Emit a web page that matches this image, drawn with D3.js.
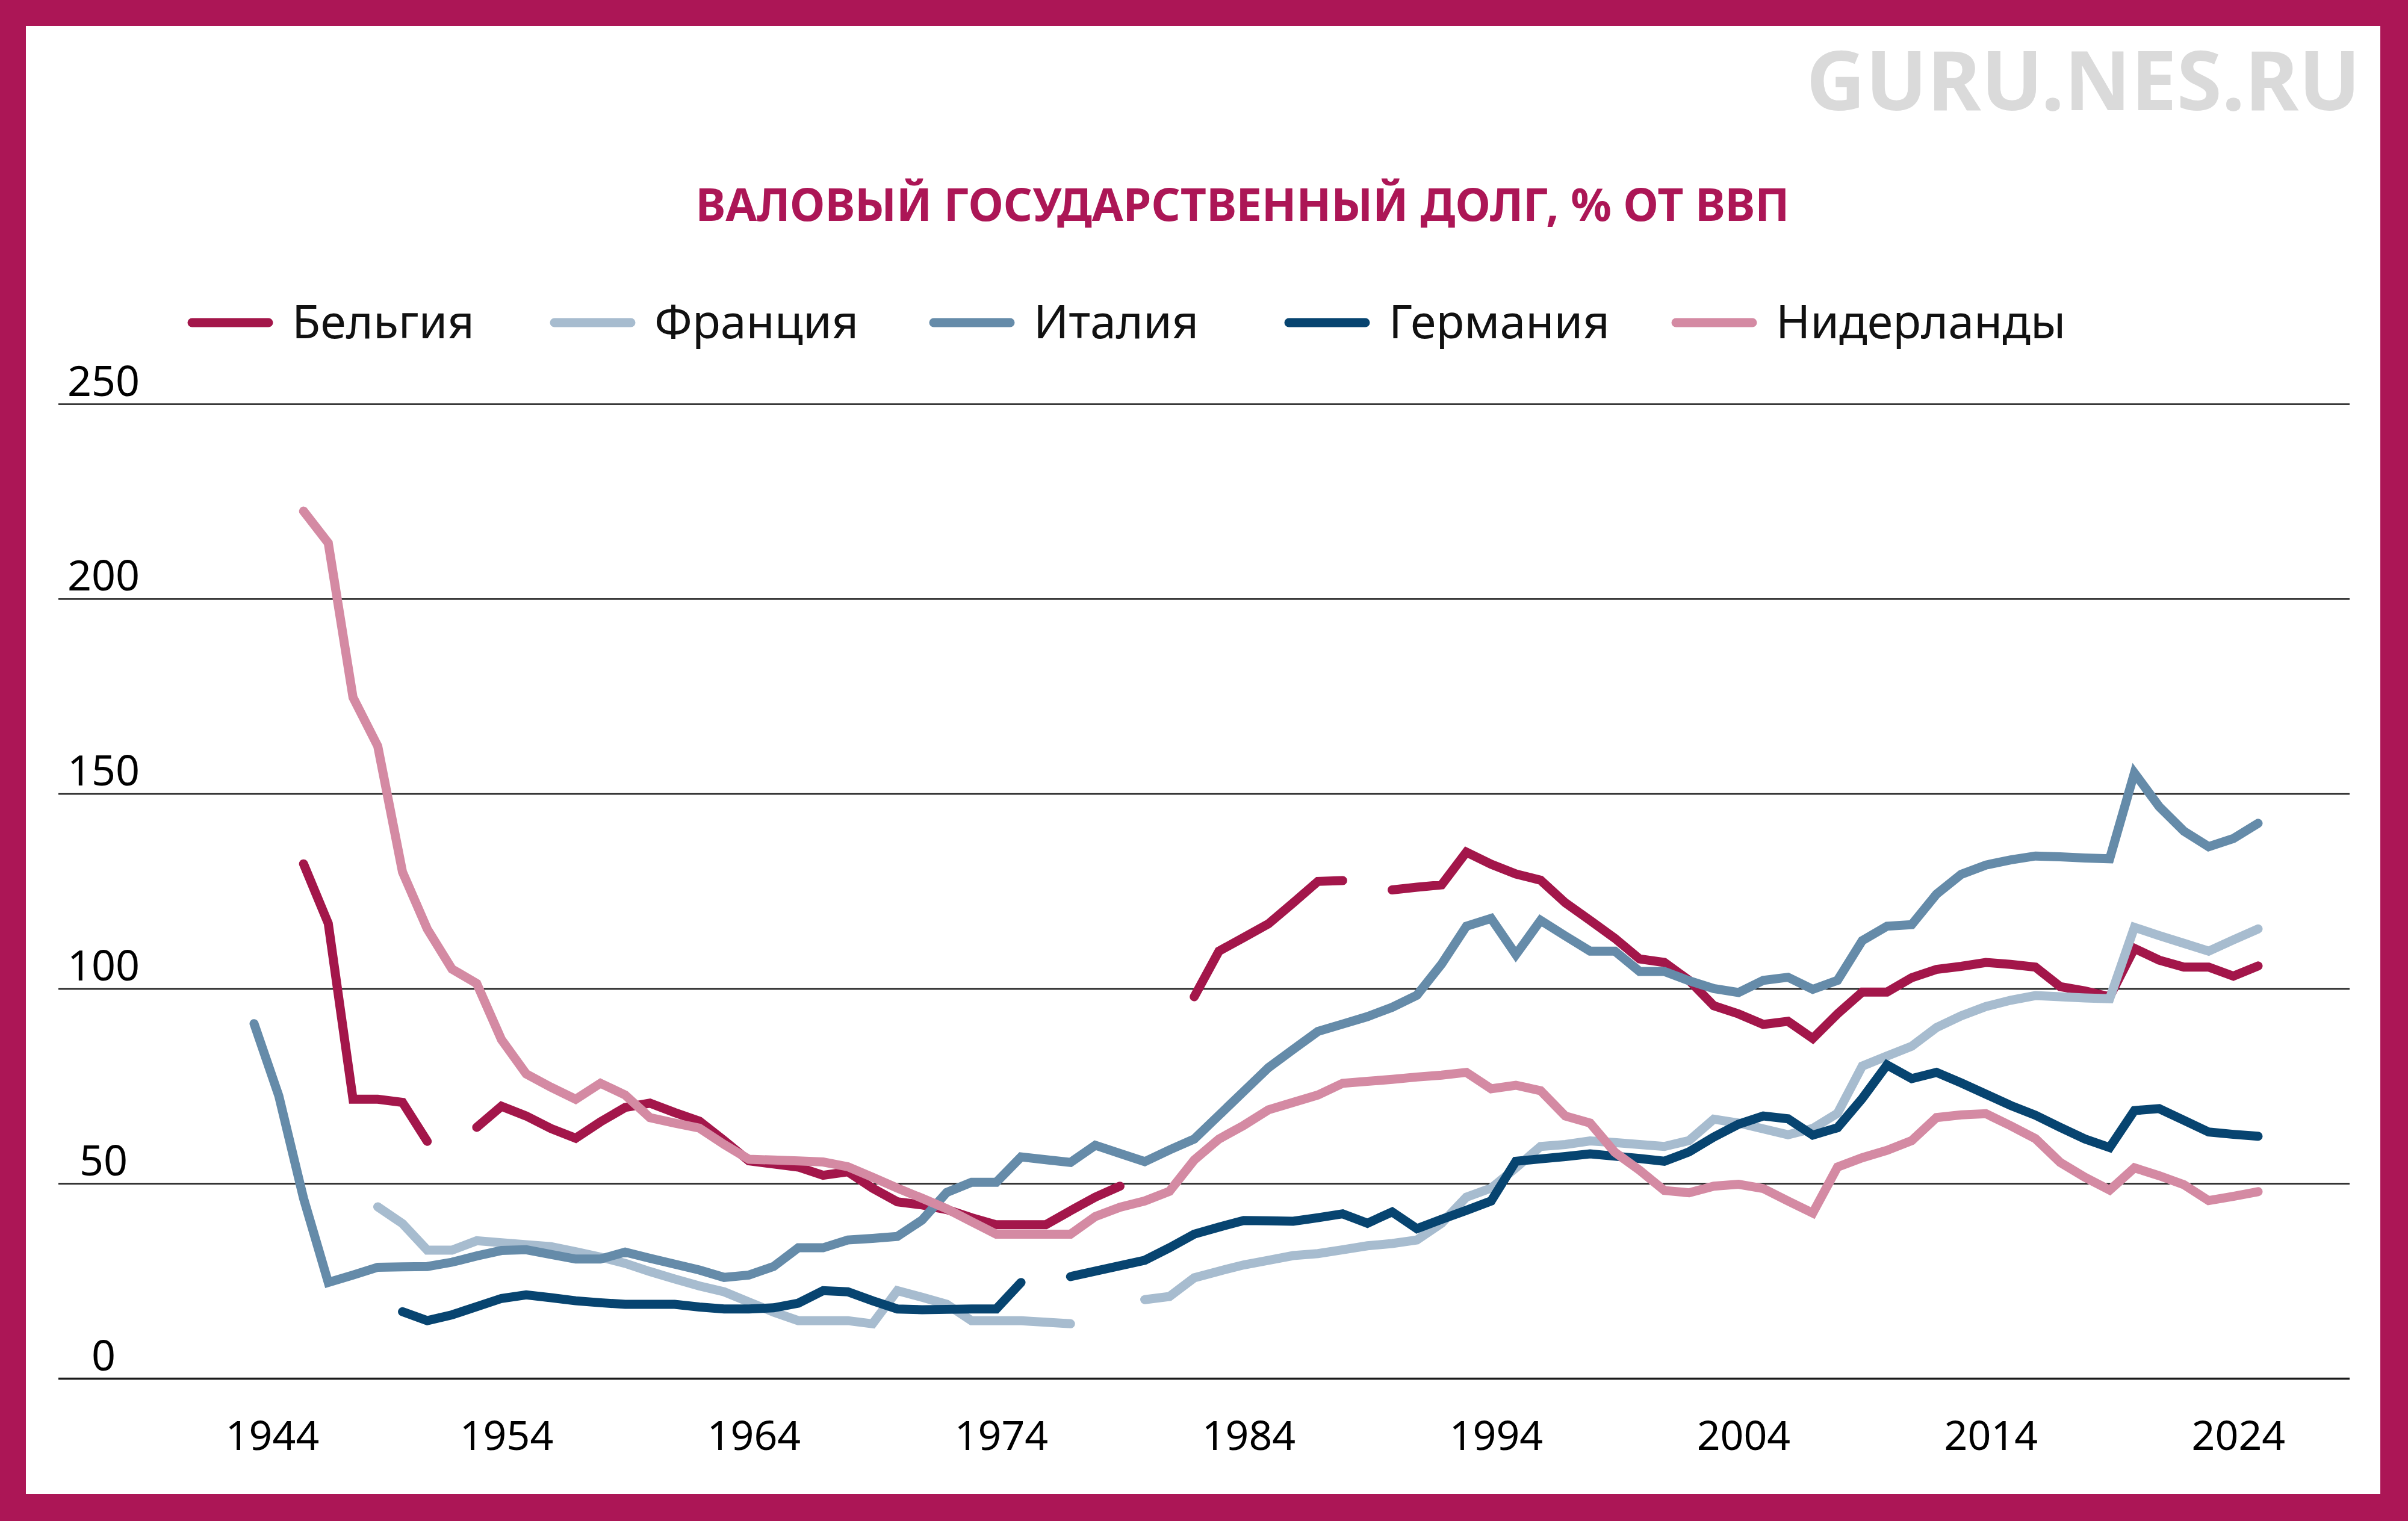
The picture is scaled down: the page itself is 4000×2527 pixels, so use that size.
<!DOCTYPE html>
<html>
<head>
<meta charset="utf-8">
<script src="https://cdn.jsdelivr.net/npm/d3@7"></script>
<style>
  html, body { margin: 0; padding: 0; background: #fff; }
  svg { display: block; }
  text { font-family: "Noto Sans", "DejaVu Sans", sans-serif; }
</style>
</head>
<body>
<script>
// ---------- DATA ----------
const years = d3.range(1944, 2026); // 1944 … 2025

const belgium = [null, null,
  132, 116.7, 71.6, 71.6, 70.8, 60.8, null, 64.4, 69.8, 67.3,
  64.1, 61.6, 65.8, 69.5, 70.6, 68.2, 66, 61, 55.8, 55,
  54.2, 52.1, 53, 48.8, 45.3, 44.5, 43.3, 41.2, 39.4, 39.4,
  39.4, 43, 46.5, 49.3, null, null, 97.9, 109.6, 113.1, 116.6,
  122, 127.5, 127.7, null, 125.3, 126, 126.6, 135, 131.9, 129.4,
  127.8, 122, 117.5, 112.9, 107.6, 106.7, 102.1, 95.6, 93.5, 90.8,
  91.6, 87.2, 93.5, 99.1, 99.1, 102.8, 104.9, 105.7, 106.7, 106.2,
  105.5, 100.5, 99.4, 97.9, 110.3, 107.3, 105.5, 105.5, 103.2, 105.8];

const france = [null, null, null, null, null,
  44, 39.7, 32.9, 32.9, 35.3, 34.8, 34.3, 33.8, 32.5, 31.1,
  29.5, 27.4, 25.5, 23.7, 22.2, 19.6, 17, 14.8, 14.8, 14.8,
  14, 22.5, 20.8, 19, 14.8, 14.8, 14.8, 14.4, 14, null,
  null, 20.2, 21, 25.8, 27.5, 29.1, 30.3, 31.5, 32, 33,
  34, 34.6, 35.5, 39.8, 46.5, 48.8, 54, 59.5, 60, 60.9,
  60.5, 60, 59.5, 61, 66.5, 65.5, 64, 62.5, 64.1, 68,
  80.1, 82.7, 85.2, 90, 93, 95.4, 97, 98.2, 97.9, 97.6,
  97.4, 115.7, 113.6, 111.6, 109.6, 112.5, 115.3];

const italy = [
  91, 72.5, 46.2, 24.6, 26.5, 28.5, 28.6, 28.7, 29.8, 31.4,
  32.8, 33, 31.8, 30.6, 30.6, 32.4, 30.8, 29.3, 27.8, 25.9,
  26.5, 28.7, 33.5, 33.5, 35.5, 35.9, 36.4, 40.6, 47.7, 50.3,
  50.3, 56.8, 56.1, 55.4, 59.8, 57.7, 55.6, 58.6, 61.4, 67.5,
  73.6, 79.7, 84.4, 89, 90.9, 92.8, 95.2, 98.3, 106.3, 116,
  118, 108.7, 117.5, 113.5, 109.6, 109.6, 104.4, 104.4, 102, 100,
  99, 102.1, 102.9, 99.8, 102.1, 112.3, 116, 116.4, 124.2, 129.3,
  131.7, 133, 134, 133.8, 133.5, 133.3, 155.3, 146.7, 140.4, 136.4,
  138.5, 142.4];

const germany = [null, null, null, null, null, null,
  17.1, 14.8, 16.3, 18.4, 20.5, 21.4, 20.7, 19.9, 19.4, 19,
  19, 19, 18.3, 17.8, 17.8, 18.1, 19.3, 22.5, 22.2, 19.9,
  17.8, 17.6, 17.7, 17.8, 17.8, 24.6, null, 26.1, 27.5, 28.9,
  30.3, 33.5, 37, 38.8, 40.5, 40.4, 40.3, 41.2, 42.2, 39.8,
  42.7, 38.4, 40.8, 43.1, 45.5, 55.7, 56.3, 56.9, 57.6, 57,
  56.4, 55.7, 58.1, 61.9, 65.2, 67.3, 66.6, 62.4, 64.3, 71.8,
  80.4, 76.9, 78.5, 75.8, 72.9, 70, 67.5, 64.4, 61.4, 59.2,
  68.7, 69.2, 66.2, 63.2, 62.6, 62.1];

const netherlands = [null, null,
  222.5, 214.3, 174.7, 162.2, 129.9, 115.3, 105, 101.3, 86.9, 78.1,
  74.7, 71.6, 75.7, 72.7, 66.9, 65.5, 64.2, 60, 56.2, 56,
  55.8, 55.5, 54.3, 51.6, 48.8, 46.2, 43.5, 40.2, 37, 37,
  37, 37, 41.5, 43.9, 45.5, 48, 56, 61.4, 64.9, 68.9,
  70.8, 72.7, 75.7, 76.2, 76.7, 77.3, 77.8, 78.5, 74.3, 75.2,
  73.8, 67.3, 65.5, 58, 53.4, 48.2, 47.6, 49.3, 49.8, 48.7,
  45.5, 42.4, 54.2, 56.6, 58.5, 61, 66.9, 67.6, 67.9, 64.8,
  61.5, 55.4, 51.6, 48.3, 54, 52, 49.7, 45.6, 46.7, 47.9];

const seriesNames  = ["Бельгия", "Франция", "Италия", "Германия", "Нидерланды"];
const seriesValues = [belgium, france, italy, germany, netherlands];
const seriesColors = ["#A3164A", "#A7BCCF", "#658BA9", "#074470", "#D48AA3"];
const drawOrder    = [0, 1, 2, 3, 4];

const xTickYears = [1944, 1954, 1964, 1974, 1984, 1994, 2004, 2014, 2024];
const yTickValues = [0, 50, 100, 150, 200, 250];

const titleText = "ВАЛОВЫЙ ГОСУДАРСТВЕННЫЙ ДОЛГ, % ОТ ВВП";
const watermarkText = "GURU.NES.RU";

// ---------- LAYOUT ----------
const W = 4000, H = 2527;
const frame = 43;
const brand = "#AC1656";
const legendX = [311, 913, 1543, 2133, 2776];

const svg = d3.select("body").append("svg")
  .attr("width", W).attr("height", H).attr("viewBox", `0 0 ${W} ${H}`);

svg.append("rect").attr("width", W).attr("height", H).attr("fill", brand);
svg.append("rect").attr("x", frame).attr("y", frame)
  .attr("width", 3954 - frame).attr("height", 2482 - frame).attr("fill", "#fff");

// watermark
svg.append("text").attr("x", 3921).attr("y", 183)
  .attr("text-anchor", "end").attr("font-size", 136).attr("font-weight", 700)
  .attr("fill", "#DADADA").text(watermarkText);

// title
svg.append("text").attr("x", 2064).attr("y", 367)
  .attr("text-anchor", "middle").attr("font-size", 75).attr("font-weight", 700)
  .attr("fill", brand).text(titleText);

// legend
const leg = svg.append("g");
seriesNames.forEach((name, i) => {
  const g = leg.append("g").attr("transform", `translate(${legendX[i]},0)`);
  g.append("line").attr("x1", 8).attr("x2", 135).attr("y1", 536).attr("y2", 536)
    .attr("stroke", seriesColors[i]).attr("stroke-width", 15).attr("stroke-linecap", "round");
  g.append("text").attr("x", 174).attr("y", 562).attr("font-size", 77)
    .attr("fill", "#111").text(name);
});

// scales
const x = d3.scaleLinear().domain([1944, 2025]).range([422, 3751]);
const y = d3.scaleLinear().domain([0, 250]).range([2290, 671]);

// y axis + gridlines
const gy = svg.append("g").attr("transform", "translate(97,0)")
  .call(d3.axisRight(y).tickValues(yTickValues).tickSize(3806).tickFormat(d3.format("d")));
gy.select(".domain").remove();
gy.selectAll(".tick line").attr("stroke", "#1a1a1a")
  .attr("stroke-width", d => d === 0 ? 3.5 : 2.5);
gy.selectAll(".tick text").attr("x", 75).attr("dy", -14).attr("text-anchor", "middle")
  .attr("font-size", 70).attr("fill", "#000").style("font-family", "'Noto Sans', sans-serif");

// x axis labels
const gx = svg.append("g").attr("transform", "translate(0,2290)")
  .call(d3.axisBottom(x).tickValues(xTickYears).tickSize(0).tickFormat(d3.format("d")));
gx.select(".domain").remove();
gx.selectAll(".tick text").attr("y", 119).attr("dy", 0)
  .attr("dx", d => d === 1944 ? 30 : 8)
  .attr("font-size", 68).attr("fill", "#000").style("font-family", "'Noto Sans', sans-serif");

// lines
const line = d3.line()
  .defined(d => d[1] !== null)
  .x(d => x(d[0])).y(d => y(d[1]));

const gl = svg.append("g");
drawOrder.forEach(i => {
  const pts = years.map((yr, k) => [yr, seriesValues[i][k] === undefined ? null : seriesValues[i][k]]);
  gl.append("path").datum(pts)
    .attr("d", line)
    .attr("fill", "none")
    .attr("stroke", seriesColors[i])
    .attr("stroke-width", 15)
    .attr("stroke-linecap", "round")
    .attr("stroke-linejoin", "miter")
    .attr("stroke-miterlimit", 4);
});
</script>
</body>
</html>
